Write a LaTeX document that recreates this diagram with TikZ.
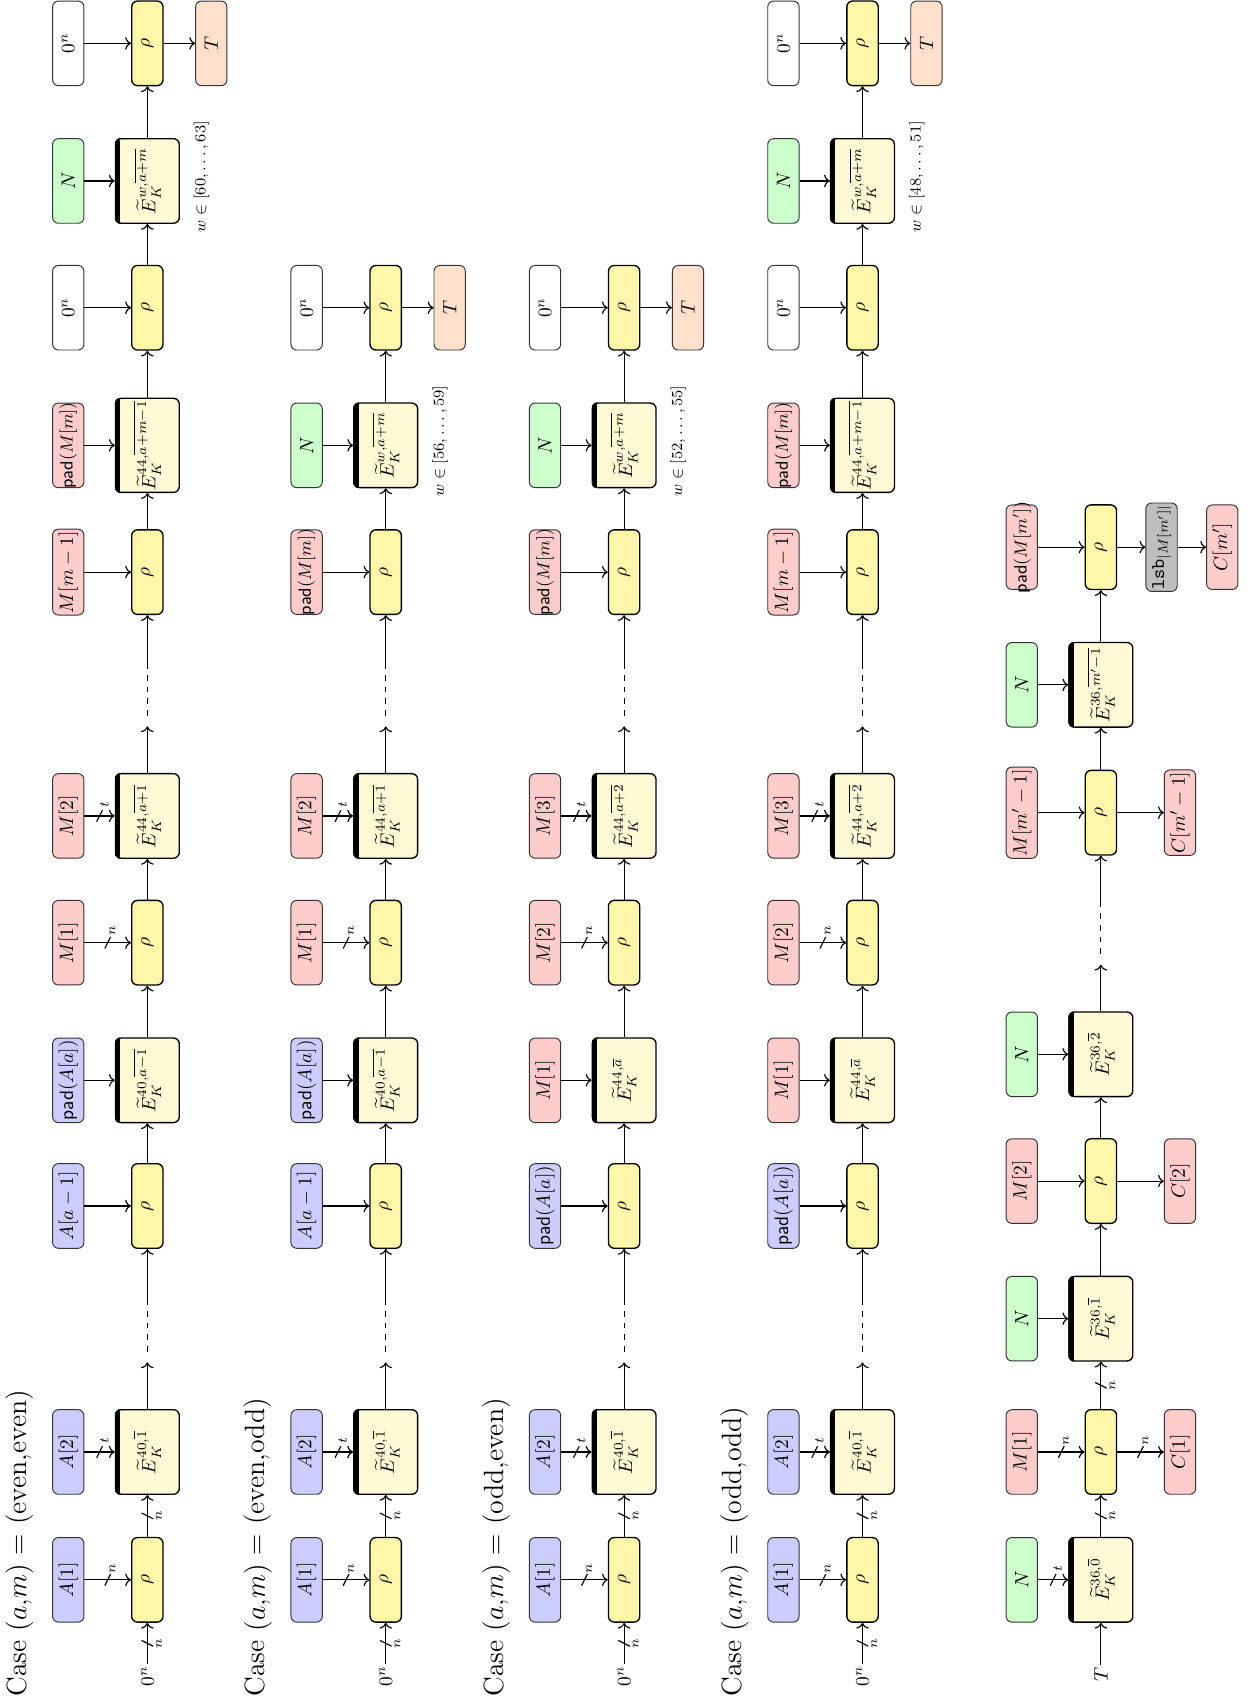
\documentclass[tikz,border=0pt]{standalone}
\usetikzlibrary{calc,decorations.markings,arrows.meta}
\definecolor{blueA}{RGB}{204,204,255}
\definecolor{redM}{RGB}{255,204,204}
\definecolor{greenN}{RGB}{204,255,204}
\definecolor{yellowR}{RGB}{255,246,170}
\definecolor{yellowE}{RGB}{255,250,214}
\definecolor{peachT}{RGB}{255,224,204}
\definecolor{grayL}{RGB}{190,190,190}
\newcommand\myEbar[1]{\begin{scope}\clip[rounded corners=3pt] (#1.south west) rectangle (#1.north east);\fill (#1.north west) rectangle ([xshift=2.8pt]#1.north east);\end{scope}}
\newcommand\myR[6]{%
  \node[rbox] (#1) at (#2,#3) {$\rho$};
  \node[#4] (#1i) at ({#2-73},#3) {#5};
  \draw[arr,#6] (#1i) -- (#1);}
\newcommand\myE[7]{%
  \node[ebox] (#1) at (#2,#3) {$\widetilde{E}_K^{#4}$};
  \myEbar{#1}
  \node[#5] (#1i) at ({#2-73},#3) {#6};
  \draw[arr,#7] (#1i) -- (#1);}
\newcommand\myGap[2]{%
  \coordinate (#1c) at ($(#1.east)+(0,-43)$);
  \coordinate (#1d) at ($(#1c)+(0,-10)$);
  \coordinate (#1f) at ($(#1c)+(0,-58)$);
  \draw[arr] (#1) -- (#1c);
  \draw[semithick,dashed] (#1d) -- (#1f);
  \draw[arr] (#1f) -- (#2);}
\newcommand\padM[1]{\makebox[40pt]{\fontsize{9.2}{11}\selectfont\textsf{pad}$(#1)$}}
\newcommand\caseText[1]{Case $(a{,}m)$ = (#1)}
\begin{document}
\begin{tikzpicture}[x=0.56pt,y=-0.56pt,
  every node/.style={rotate=90},
  box/.style={draw=black!80, line width=0.5pt, rounded corners=3pt, minimum width=43.7pt, minimum height=16.2pt, inner xsep=1pt, inner ysep=0pt},
  abox/.style={box, fill=blueA},
  mbox/.style={box, fill=redM},
  nbox/.style={box, fill=greenN},
  zbox/.style={box, fill=white},
  tbox/.style={box, fill=peachT},
  lbox/.style={box, fill=grayL},
  rbox/.style={box, draw=black, line width=0.7pt, fill=yellowR},
  ebox/.style={box, draw=black, line width=0.7pt, fill=yellowE, minimum height=33pt},
  arr/.style={-{To[length=3pt,width=6.5pt]}, semithick},
  txt/.style={inner sep=1pt},
  lab/.style={inner sep=0pt, font=\scriptsize},
  wlab/.style={inner sep=0pt, font=\footnotesize},
  caselab/.style={inner sep=0pt, font=\Large, anchor=west},
  busA/.style={postaction={decorate}, decoration={markings, mark=at position 0.5 with {\draw[semithick,-] (-1.5pt,-3pt) -- (1.5pt,3pt); \node[lab] at (2.5pt,6pt) {$#1$};}}},
  busB/.style={postaction={decorate}, decoration={markings, mark=at position 0.5 with {\draw[semithick,-] (-1.5pt,-3pt) -- (1.5pt,3pt); \node[lab] at (0pt,-6pt) {$#1$};}}}
]
\useasboundingbox (0,0) rectangle (1154,1568);

% ---------- Row 1: (even,even)
\node[caselab] (c1) at (18,1566) {\caseText{even,even}};
\node[txt] (z1) at (136,1547) {$0^n$};
\myR{r1a}{136}{1458}{abox}{$A[1]$}{busA=n}
\myE{e1a}{136}{1340}{40,\overline{1}}{abox}{$A[2]$}{busA=t}
\myR{r1b}{136}{1113}{abox}{$A[a-1]$}{}
\myE{e1b}{136}{997}{40,\overline{a-1}}{abox}{\textsf{pad}$(A[a])$}{}
\myR{r1c}{136}{870}{mbox}{$M[1]$}{busA=n}
\myE{e1c}{136}{753}{44,\overline{a+1}}{mbox}{$M[2]$}{busA=t}
\myR{r1d}{136}{528}{mbox}{$M[m-1]$}{}
\myE{e1d}{136}{411}{44,\overline{a+m-1}}{mbox}{\padM{M[m]}}{}
\myR{r1e}{136}{284}{zbox}{$0^n$}{}
\myE{e1e}{136}{167}{w,\overline{a+m}}{nbox}{$N$}{}
\node[wlab] (w1) at (186,163) {$w\in[60,\ldots,63]$};
\myR{r1f}{136}{40}{zbox}{$0^n$}{}
\node[tbox] (o1) at (195,40) {$T$};
\draw[arr,busB=n] (z1) -- (r1a);
\draw[arr,busB=n] (r1a) -- (e1a);
\myGap{e1a}{r1b}
\draw[arr] (r1b) -- (e1b);
\draw[arr] (e1b) -- (r1c);
\draw[arr] (r1c) -- (e1c);
\myGap{e1c}{r1d}
\draw[arr] (r1d) -- (e1d);
\draw[arr] (e1d) -- (r1e);
\draw[arr] (r1e) -- (e1e);
\draw[arr] (e1e) -- (r1f);
\draw[arr] (r1f) -- (o1);

% ---------- Row 2: (even,odd)
\node[caselab] (c2) at (238,1566) {\caseText{even,odd}};
\node[txt] (z2) at (356,1547) {$0^n$};
\myR{r2a}{356}{1458}{abox}{$A[1]$}{busA=n}
\myE{e2a}{356}{1340}{40,\overline{1}}{abox}{$A[2]$}{busA=t}
\myR{r2b}{356}{1113}{abox}{$A[a-1]$}{}
\myE{e2b}{356}{997}{40,\overline{a-1}}{abox}{\textsf{pad}$(A[a])$}{}
\myR{r2c}{356}{870}{mbox}{$M[1]$}{busA=n}
\myE{e2c}{356}{753}{44,\overline{a+1}}{mbox}{$M[2]$}{busA=t}
\myR{r2d}{356}{528}{mbox}{\padM{M[m]}}{}
\myE{e2d}{356}{411}{w,\overline{a+m}}{nbox}{$N$}{}
\node[wlab] (w2) at (406,407) {$w\in[56,\ldots,59]$};
\myR{r2e}{356}{284}{zbox}{$0^n$}{}
\node[tbox] (o2) at (415,284) {$T$};
\draw[arr,busB=n] (z2) -- (r2a);
\draw[arr,busB=n] (r2a) -- (e2a);
\myGap{e2a}{r2b}
\draw[arr] (r2b) -- (e2b);
\draw[arr] (e2b) -- (r2c);
\draw[arr] (r2c) -- (e2c);
\myGap{e2c}{r2d}
\draw[arr] (r2d) -- (e2d);
\draw[arr] (e2d) -- (r2e);
\draw[arr] (r2e) -- (o2);

% ---------- Row 3: (odd,even)
\node[caselab] (c3) at (458,1566) {\caseText{odd,even}};
\node[txt] (z3) at (576,1547) {$0^n$};
\myR{r3a}{576}{1458}{abox}{$A[1]$}{busA=n}
\myE{e3a}{576}{1340}{40,\overline{1}}{abox}{$A[2]$}{busA=t}
\myR{r3b}{576}{1113}{abox}{\textsf{pad}$(A[a])$}{}
\myE{e3b}{576}{997}{44,\overline{a}}{mbox}{$M[1]$}{}
\myR{r3c}{576}{870}{mbox}{$M[2]$}{busA=n}
\myE{e3c}{576}{753}{44,\overline{a+2}}{mbox}{$M[3]$}{busA=t}
\myR{r3d}{576}{528}{mbox}{\padM{M[m]}}{}
\myE{e3d}{576}{411}{w,\overline{a+m}}{nbox}{$N$}{}
\node[wlab] (w3) at (626,407) {$w\in[52,\ldots,55]$};
\myR{r3e}{576}{284}{zbox}{$0^n$}{}
\node[tbox] (o3) at (635,284) {$T$};
\draw[arr,busB=n] (z3) -- (r3a);
\draw[arr,busB=n] (r3a) -- (e3a);
\myGap{e3a}{r3b}
\draw[arr] (r3b) -- (e3b);
\draw[arr] (e3b) -- (r3c);
\draw[arr] (r3c) -- (e3c);
\myGap{e3c}{r3d}
\draw[arr] (r3d) -- (e3d);
\draw[arr] (e3d) -- (r3e);
\draw[arr] (r3e) -- (o3);

% ---------- Row 4: (odd,odd)
\node[caselab] (c4) at (678,1566) {\caseText{odd,odd}};
\node[txt] (z4) at (796,1547) {$0^n$};
\myR{r4a}{796}{1458}{abox}{$A[1]$}{busA=n}
\myE{e4a}{796}{1340}{40,\overline{1}}{abox}{$A[2]$}{busA=t}
\myR{r4b}{796}{1113}{abox}{\textsf{pad}$(A[a])$}{}
\myE{e4b}{796}{997}{44,\overline{a}}{mbox}{$M[1]$}{}
\myR{r4c}{796}{870}{mbox}{$M[2]$}{busA=n}
\myE{e4c}{796}{753}{44,\overline{a+2}}{mbox}{$M[3]$}{busA=t}
\myR{r4d}{796}{528}{mbox}{$M[m-1]$}{}
\myE{e4d}{796}{411}{44,\overline{a+m-1}}{mbox}{\padM{M[m]}}{}
\myR{r4e}{796}{284}{zbox}{$0^n$}{}
\myE{e4e}{796}{167}{w,\overline{a+m}}{nbox}{$N$}{}
\node[wlab] (w4) at (846,163) {$w\in[48,\ldots,51]$};
\myR{r4f}{796}{40}{zbox}{$0^n$}{}
\node[tbox] (o4) at (855,40) {$T$};
\draw[arr,busB=n] (z4) -- (r4a);
\draw[arr,busB=n] (r4a) -- (e4a);
\myGap{e4a}{r4b}
\draw[arr] (r4b) -- (e4b);
\draw[arr] (e4b) -- (r4c);
\draw[arr] (r4c) -- (e4c);
\myGap{e4c}{r4d}
\draw[arr] (r4d) -- (e4d);
\draw[arr] (e4d) -- (r4e);
\draw[arr] (r4e) -- (e4e);
\draw[arr] (e4e) -- (r4f);
\draw[arr] (r4f) -- (o4);

% ---------- Row 5: encryption
\node[txt] (t5) at (1016,1545) {$T$};
\myE{e5a}{1016}{1458}{36,\overline{0}}{nbox}{$N$}{busA=t}
\myR{r5a}{1016}{1340}{mbox}{$M[1]$}{busA=n}
\node[mbox] (o5a) at (1089,1340) {$C[1]$};
\myE{e5b}{1016}{1217}{36,\overline{1}}{nbox}{$N$}{}
\myR{r5b}{1016}{1090}{mbox}{$M[2]$}{}
\node[mbox] (o5b) at (1089,1090) {$C[2]$};
\myE{e5c}{1016}{973}{36,\overline{2}}{nbox}{$N$}{}
\myR{r5c}{1016}{750}{mbox}{$M[m'-1]$}{}
\node[mbox] (o5c) at (1089,750) {$C[m'-1]$};
\myE{e5d}{1016}{632}{36,\overline{m'-1}}{nbox}{$N$}{}
\myR{r5d}{1016}{505}{mbox}{\padM{M[m']}}{}
\node[lbox] (l5) at (1072,505) {\texttt{lsb}$_{|M[m']|}$};
\node[mbox] (o5d) at (1128,505) {$C[m']$};
\draw[arr] (t5) -- (e5a);
\draw[arr,busB=n] (e5a) -- (r5a);
\draw[arr,busA=n] (r5a) -- (o5a);
\draw[arr,busB=n] (r5a) -- (e5b);
\draw[arr] (e5b) -- (r5b);
\draw[arr] (r5b) -- (o5b);
\draw[arr] (r5b) -- (e5c);
\myGap{e5c}{r5c}
\draw[arr] (r5c) -- (o5c);
\draw[arr] (r5c) -- (e5d);
\draw[arr] (e5d) -- (r5d);
\draw[arr] (r5d) -- (l5);
\draw[arr] (l5) -- (o5d);
\end{tikzpicture}
\end{document}
